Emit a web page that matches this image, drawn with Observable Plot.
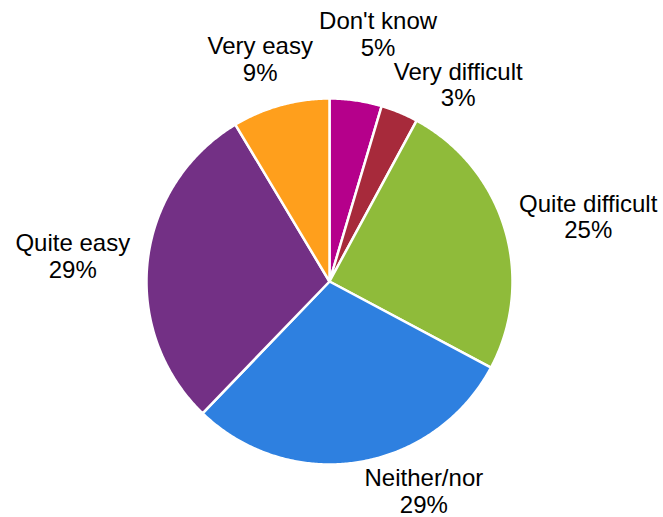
<!DOCTYPE html>
<html>
<head>
<meta charset="utf-8">
<script src="https://cdn.jsdelivr.net/npm/d3@7"></script>
<script src="https://cdn.jsdelivr.net/npm/@observablehq/plot@0.6"></script>
<style>
  html, body { margin: 0; padding: 0; background: #fff; }
  #chart svg { display: block; }
</style>
</head>
<body>
<div id="chart"></div>
<script>
// Data (clockwise from 12 o'clock)
const categories = ["Don't know", "Very difficult", "Quite difficult", "Neither/nor", "Quite easy", "Very easy"];
const shares = [4.6, 3.3, 24.9, 29.4, 29.2, 8.6];
const colors = ["#B5008B", "#A72A3B", "#8FBB3A", "#2E80E0", "#733085", "#FF9F1C"];

// Layout
const W = 663, H = 517;
const cx = 329, cy = 281, R = 183;
const fontSize = 24, lineHeight = 1.1, gap = 18;
const font = `${fontSize}px "Liberation Sans", Arial, sans-serif`;

const table = categories.map((name, i) => ({name, value: shares[i]}));
const arcs = d3.pie().sort(null).value(d => d.value)(table);

// slice polygons (pixel-unit data space, y up, origin at pie centre)
const pts = [];
arcs.forEach(a => {
  const name = a.data.name;
  pts.push({name, x: 0, y: 0});
  const n = Math.max(2, Math.ceil((a.endAngle - a.startAngle) / (Math.PI / 360)));
  for (let k = 0; k <= n; k++) {
    const t = a.startAngle + (a.endAngle - a.startAngle) * k / n;
    pts.push({name, x: R * Math.sin(t), y: R * Math.cos(t)});
  }
});

// labels: placed outside each slice, nudged apart when they collide
const ctx = document.createElement("canvas").getContext("2d");
ctx.font = font;
const labels = arcs.map(a => {
  const text = `${a.data.name}\n${Math.round(a.data.value)}%`;
  const w = Math.max(...text.split("\n").map(s => ctx.measureText(s).width));
  return {text, theta: (a.startAngle + a.endAngle) / 2, dr: 0, w, h: 48};
});
function box(l) {
  const s = Math.sin(l.theta), c = Math.cos(l.theta), r = R + gap + l.dr;
  const x = r * s + l.w / 2 * s, y = r * c + l.h / 2 * c;
  return {x, y, x0: x - l.w / 2, x1: x + l.w / 2, y0: y - l.h / 2, y1: y + l.h / 2};
}
function overlap(a, b) {
  return a.x0 < b.x1 + 2 && b.x0 < a.x1 + 2 && a.y0 < b.y1 + 2 && b.y0 < a.y1 + 2;
}
const step = Math.PI / 720;
for (let it = 0; it < 800; it++) {
  let moved = false;
  for (let i = 0; i < labels.length; i++) {
    const j = (i + 1) % labels.length;
    if (overlap(box(labels[i]), box(labels[j]))) {
      labels[i].dr += 1;
      labels[j].theta += step;
      moved = true;
    }
  }
  // keep labels inside the frame by sliding them round the circle
  labels.forEach(l => {
    const b = box(l);
    if (b.y0 < -(H - cy) + 2) {
      const t = ((l.theta % (2 * Math.PI)) + 2 * Math.PI) % (2 * Math.PI);
      l.theta += t < Math.PI ? -step : step;
      moved = true;
    }
    if (b.y1 > cy - 2) {
      const t = ((l.theta % (2 * Math.PI)) + 2 * Math.PI) % (2 * Math.PI);
      l.theta += t > Math.PI ? step : -step;
      moved = true;
    }
  });
  if (!moved) break;
}
labels.forEach(l => { const b = box(l); l.x = b.x; l.y = b.y; });

const chart = Plot.plot({
  width: W,
  height: H,
  margin: 0,
  x: {domain: [-cx, W - cx], axis: null},
  y: {domain: [-(H - cy), cy], axis: null},
  color: {domain: categories, range: colors},
  style: {fontFamily: '"Liberation Sans", Arial, sans-serif', background: "#fff"},
  marks: [
    Plot.line(pts, {x: "x", y: "y", z: "name", fill: "name", stroke: "white", strokeWidth: 2.5, strokeLinejoin: "round", curve: "linear-closed"}),
    Plot.text(labels, {x: "x", y: "y", text: "text", fontSize, lineHeight, textAnchor: "middle", lineAnchor: "middle", fill: "#000"})
  ]
});
document.getElementById("chart").appendChild(chart);
</script>
</body>
</html>
